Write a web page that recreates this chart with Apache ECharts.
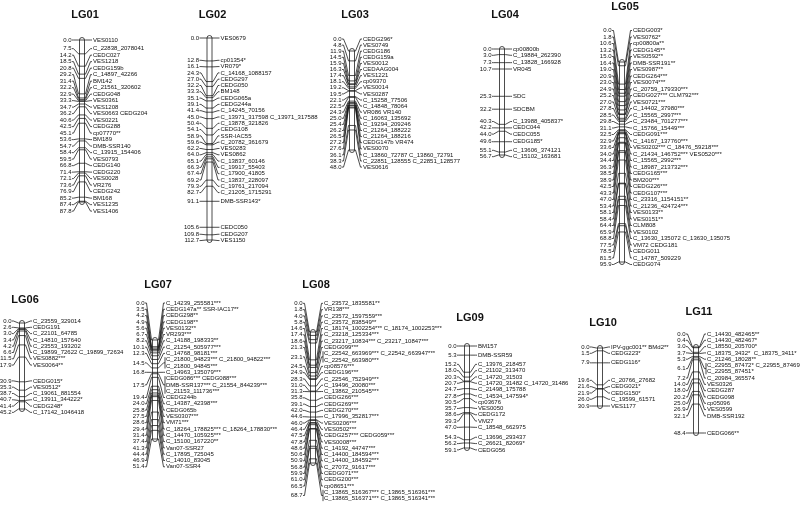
<!DOCTYPE html>
<html>
<head>
<meta charset="utf-8">
<script src="https://cdn.jsdelivr.net/npm/echarts@6/dist/echarts.min.js"></script>
<style>
  html, body { margin: 0; padding: 0; background: #fff; }
  #main { width: 800px; height: 508px; }
</style>
</head>
<body>
<div id="main"></div>
<script>
// marker positions (cM) and marker names per linkage group
const lg01Pos = [0.0, 7.5, 14.2, 18.5, 20.8, 29.2, 31.4, 32.2, 32.9, 33.3, 34.7, 36.2, 40.6, 42.5, 45.1, 53.6, 54.7, 58.4, 59.5, 66.8, 71.4, 72.1, 73.6, 76.9, 85.2, 87.4, 87.8];
const lg01Names = ['VES0110', 'C_22838_2078041', 'CEDC027', 'VES1218', 'CEDG159b', 'C_14897_42266', 'BM142', 'C_21561_320602', 'CEDG048', 'VES0361', 'VES1208', 'VES0663 CEDG204', 'VES0221', 'CEDG288', 'cp07770**', 'BM189', 'DMB-SSR140', 'C_13915_154406', 'VES0793', 'CEDG140', 'CEDG220', 'VES0028', 'VR276', 'CEDG242', 'BM168', 'VES1235', 'VES1406'];

const lg02Pos = [0.0, 12.8, 16.1, 24.3, 27.0, 32.2, 33.3, 35.1, 39.1, 41.4, 45.0, 50.4, 54.1, 58.9, 59.6, 62.2, 64.0, 65.1, 66.3, 67.4, 69.2, 79.3, 82.7, 91.1, 105.6, 109.8, 112.7];
const lg02Names = ['VES0679', 'cp01354*', 'VR079*', 'C_14168_1088157', 'CEDG297', 'CEDG050', 'BM148', 'CEDG065a', 'CEDG244a', 'C_14245_70156', 'C_13971_317598 C_13971_317588', 'C_13878_321826', 'CEDG108', 'SSR-IAC55', 'C_20782_361679', 'VES0283', 'VES0862', 'C_13837_60146', 'C_19917_55403', 'C_17900_41805', 'C_13837_228097', 'C_19761_217094', 'C_21205_1715291', 'DMB-SSR143*', 'CEDC050', 'CEDG207', 'VES1150'];

const lg03Pos = [0.0, 4.8, 11.9, 14.5, 15.9, 16.3, 17.4, 18.1, 19.2, 19.5, 22.1, 22.5, 24.3, 25.0, 25.4, 26.2, 26.5, 27.2, 27.6, 36.1, 38.3, 48.0];
const lg03Names = ['CEDG296*', 'VES0749', 'CEDG186', 'CEDG159a', 'VES0012', 'CEDAAG004', 'VES1221', 'cp09370', 'VES0014', 'VES0287', 'C_15258_77506', 'C_14848_78064', 'VR086 VR140', 'C_16063_135692', 'C_19294_209246', 'C_21264_188222', 'C_21264_188216', 'CEDG147b VR474', 'VES0070', 'C_13860_72787 C_13860_72791', 'C_22851_128555 C_22851_128577', 'VES0616'];

const lg04Pos = [0.0, 3.0, 7.3, 10.7, 25.3, 32.2, 40.3, 42.2, 44.0, 49.6, 55.1, 56.7];
const lg04Names = ['cp00800b', 'C_19884_262390', 'C_13828_166928', 'VR045', 'SDC', 'SDCBM', 'C_13988_405837*', 'CEDC044', 'CEDC055', 'CEDG185*', 'C_13606_374121', 'C_15102_163681'];

const lg05Pos = [0.0, 1.8, 10.6, 13.2, 15.0, 16.4, 19.0, 20.9, 23.0, 24.9, 25.2, 27.0, 27.8, 28.5, 29.8, 31.1, 32.5, 32.9, 33.6, 34.0, 34.4, 36.3, 38.5, 38.9, 42.5, 43.3, 47.0, 53.4, 58.1, 58.4, 64.4, 65.9, 68.8, 77.5, 78.5, 81.5, 95.9];
const lg05Names = ['CEDG003*', 'VES0762*', 'cp00800a**', 'CEDG145**', 'VES0592**', 'DMB-SSR191**', 'VES0987**', 'CEDG264***', 'VES0074***', 'C_20759_179330***', 'CEDG027*** CLM792***', 'VES0721***', 'C_14402_37980***', 'C_15565_2997***', 'C_23484_701277***', 'C_15766_15449***', 'CEDG091***', 'C_14167_137760***', 'VES0202*** C_18476_59218***', 'C_21434_146752*** VES0520***', 'C_15565_2992***', 'C_18987_213732***', 'CEDG165***', 'BM200***', 'CEDG226***', 'CEDG107***', 'C_23316_1154151**', 'C_21236_424724***', 'VES0133**', 'VES0151**', 'CLM808', 'VES0102', 'C_13630_135072 C_13630_135075', 'VM72 CEDG181', 'CEDG011', 'C_14787_509229', 'CEDG074'];

const lg06Pos = [0.0, 2.6, 3.0, 3.4, 4.2, 6.6, 11.5, 17.9, 30.9, 35.3, 38.7, 40.7, 41.4, 45.2];
const lg06Names = ['C_23559_329014', 'CEDG191', 'C_22101_64785', 'C_14810_157640', 'C_23553_193202', 'C_19899_72622 C_19899_72634', 'VES0882***', 'VES0064**', 'CEDG015*', 'VES0512*', 'C_19061_881554', 'C_13911_344222*', 'CEDG248*', 'C_17142_1046418'];

const lg07Pos = [0.0, 3.5, 4.2, 4.9, 5.6, 6.7, 8.2, 10.1, 12.3, 14.5, 16.8, 17.5, 19.4, 24.0, 25.8, 27.5, 28.6, 29.4, 31.4, 37.4, 41.3, 44.4, 46.9, 51.4];
const lg07Names = ['C_14239_255581***', 'CEDG147a** SSR-IAC17**', 'CEDG298**', 'CEDG198**', 'VES0132**', 'VR293***', 'C_14188_198333**', 'C_21254_505977***', 'C_14768_98181***', 'C_21800_94823*** C_21800_94822***\nC_21800_94845***', 'C_14963_135079***', 'CEDG086*** CEDG088***\nDMB-SSR137*** C_21554_844239***\nC_21153_111736***', 'CEDG244b', 'C_14387_42398***', 'CEDG065b', 'VES0307***', 'VM71***', 'C_18264_178825*** C_18264_178830***', 'C_14470_105925***', 'C_15100_167220**', 'Van07-SSR27', 'C_17895_725045', 'C_14010_83045', 'Van07-SSR4'];

const lg08Pos = [0.0, 1.8, 4.0, 5.8, 14.6, 17.4, 18.6, 21.3, 23.1, 24.5, 24.9, 28.3, 31.0, 31.3, 35.8, 39.1, 42.0, 44.6, 46.0, 46.4, 47.5, 47.8, 48.6, 50.6, 50.9, 56.8, 59.9, 61.0, 66.5, 68.7];
const lg08Names = ['C_23572_1835581**', 'VR138***', 'C_23572_1597559***', 'C_23572_838549**', 'C_18174_1002254*** C_18174_1002253***', 'C_23218_125334***', 'C_23217_10834*** C_23217_10847***', 'CEDG099***', 'C_22542_663969*** C_22542_663947***\nC_22542_663980***', 'cp08576***', 'CEDG196***', 'C_22546_752949***', 'C_19496_20080***', 'C_13862_210545***', 'CEDG266***', 'CEDG269***', 'CEDG270***', 'C_17996_352817***', 'VES0206***', 'VES0502***', 'CEDG257*** CEDG059***', 'VES0008***', 'C_14192_44747***', 'C_14400_184594***', 'C_14400_184592***', 'C_27072_91617***', 'CEDG071***', 'CEDG200***', 'cp08651***', 'C_13865_516367*** C_13865_516361***\nC_13865_516371*** C_13865_516341***'];

const lg09Pos = [0.0, 5.3, 15.2, 18.0, 20.3, 20.7, 24.7, 27.8, 30.5, 35.7, 38.6, 39.3, 47.0, 54.3, 56.2, 59.1];
const lg09Names = ['BM157', 'DMB-SSR59', 'C_13976_218457', 'C_21102_313470', 'C_14720_31503', 'C_14720_31482 C_14720_31486', 'C_21498_175788', 'C_14534_147594*', 'cp03676', 'VES0050', 'CEDG172', 'VM27', 'C_18548_662975', 'C_13696_293437', 'C_26621_82069*', 'CEDG056'];

const lg10Pos = [0.0, 1.5, 7.9, 19.6, 21.6, 21.9, 26.0, 30.9];
const lg10Names = ['IPV-ggc001** BMd2**', 'CEDG223*', 'CEDG116*', 'C_20766_27682', 'CEDG021*', 'CEDG150*', 'C_19599_61571', 'VES1177'];

const lg11Pos = [0.0, 0.4, 3.0, 3.7, 5.3, 6.1, 7.2, 14.0, 18.0, 20.2, 25.0, 26.9, 32.1, 48.4];
const lg11Names = ['C_14430_482465**', 'C_14430_482467*', 'C_18550_205700*', 'C_18375_3432*  C_18375_3411*', 'C_21246_18028**', 'C_22955_87472* C_22955_87469*\nC_22955_87451*', 'C_20984_365574', 'VES0326', 'CEDG287', 'CEDG098', 'cp05096', 'VES0599', 'DMB-SSR192', 'CEDG066**'];

const groups = [
    {id: 'LG01', pos: lg01Pos, names: lg01Names},
    {id: 'LG02', pos: lg02Pos, names: lg02Names},
    {id: 'LG03', pos: lg03Pos, names: lg03Names},
    {id: 'LG04', pos: lg04Pos, names: lg04Names},
    {id: 'LG05', pos: lg05Pos, names: lg05Names},
    {id: 'LG06', pos: lg06Pos, names: lg06Names},
    {id: 'LG07', pos: lg07Pos, names: lg07Names},
    {id: 'LG08', pos: lg08Pos, names: lg08Names},
    {id: 'LG09', pos: lg09Pos, names: lg09Names},
    {id: 'LG10', pos: lg10Pos, names: lg10Names},
    {id: 'LG11', pos: lg11Pos, names: lg11Names},
];

// where each chromosome sits on the page: bar centre x, bar top/bottom,
// title y, highest allowed label row, label row height
const place = {
    LG01: {x: 82, top: 40, bottom: 202, titleY: 15, minY: 36.5, lh: 6.5},
    LG02: {x: 209.5, top: 38, bottom: 240, titleY: 15, minY: 38, lh: 6.3},
    LG03: {x: 352, top: 51, bottom: 150, titleY: 15, minY: 39, lh: 6.1},
    LG04: {x: 502, top: 49, bottom: 155, titleY: 15, minY: 49, lh: 6.3},
    LG05: {x: 622, top: 62, bottom: 262, titleY: 7, minY: 30.5, lh: 6.5},
    LG06: {x: 22, top: 323, bottom: 409, titleY: 300, minY: 321, lh: 6.3},
    LG07: {x: 155, top: 340, bottom: 439, titleY: 285, minY: 303, lh: 6.3},
    LG08: {x: 313, top: 332, bottom: 463, titleY: 285, minY: 303, lh: 6.3},
    LG09: {x: 467, top: 346, bottom: 448, titleY: 318, minY: 343, lh: 6.3},
    LG10: {x: 600, top: 348, bottom: 406, titleY: 323, minY: 347, lh: 6.3},
    LG11: {x: 696, top: 347, bottom: 433, titleY: 312, minY: 334, lh: 6.3},
};

const BAR_W = 5;
const FONT = '6px "Liberation Sans", Arial, sans-serif';
const TITLE_FONT = 'bold 11px "Liberation Sans", Arial, sans-serif';
const INK = '#111';

// push label blocks apart so they don't overlap; each cluster sits on the
// mean of its markers' wanted rows, never higher than minY
function spread(ys, sizes, lh, minY) {
    const hs = sizes.map(n => n * lh);
    const fit = c => {
        let off = 0, s = 0;
        c.idx.forEach(j => {
            s += ys[j] - off - hs[j] / 2;
            off += hs[j];
        });
        c.h = off;
        c.top = Math.max(s / c.idx.length, minY - hs[0] / 2);
        return c;
    };
    const stack = [];
    ys.forEach((y, i) => {
        stack.push(fit({idx: [i]}));
        while (stack.length > 1) {
            const b = stack[stack.length - 1], a = stack[stack.length - 2];
            if (a.top + a.h <= b.top + 0.01) break;
            stack.pop();
            stack.pop();
            stack.push(fit({idx: a.idx.concat(b.idx)}));
        }
    });
    const out = [];
    stack.forEach(c => {
        let off = 0;
        c.idx.forEach(j => {
            out[j] = c.top + off + hs[j] / 2;
            off += hs[j];
        });
    });
    return out;
}

const txt = (text, x, y, align, font) => ({
    type: 'text',
    style: {
        text: text, x: x, y: y, fill: INK, font: font || FONT,
        align: align, verticalAlign: 'middle',
        textAlign: align, textVerticalAlign: 'middle'
    }
});
const stroke = {stroke: INK, lineWidth: 0.75, fill: 'none'};

const grids = [], xAxes = [], yAxes = [], series = [];

groups.forEach((g, k) => {
    const p = place[g.id];
    const len = g.pos[g.pos.length - 1];
    grids.push({left: p.x - 1, width: 2, top: p.top, height: p.bottom - p.top});
    xAxes.push({type: 'value', gridIndex: k, min: -1, max: 1, show: false});
    yAxes.push({type: 'value', gridIndex: k, min: 0, max: len, inverse: true, show: false});

    // chromosome bar + group title
    series.push({
        type: 'custom',
        xAxisIndex: k,
        yAxisIndex: k,
        clip: false,
        silent: true,
        z: 1,
        data: [[0, 0]],
        renderItem: (params, api) => {
            const a = api.coord([0, 0]), b = api.coord([0, len]);
            const r = BAR_W / 2;
            return {
                type: 'group',
                children: [
                    {
                        type: 'rect',
                        shape: {x: a[0] - r, y: a[1] - r, width: BAR_W, height: b[1] - a[1] + BAR_W, r: r},
                        style: {fill: '#fff', stroke: INK, lineWidth: 0.75}
                    },
                    txt(g.id, a[0] + 3, p.titleY, 'center', TITLE_FONT)
                ]
            };
        }
    });

    // markers: tick on the bar, connector lines, position and name labels
    const rows = g.names.map(s => s.split('\n'));
    series.push({
        type: 'custom',
        xAxisIndex: k,
        yAxisIndex: k,
        clip: false,
        silent: true,
        z: 2,
        data: g.pos.map(v => [0, v]),
        renderItem: (params, api) => {
            const i = params.dataIndex;
            const ys = g.pos.map(v => api.coord([0, v])[1]);
            const cx = api.coord([0, 0])[0];
            const c = spread(ys, rows.map(r => r.length), p.lh, p.minY)[i];
            const y = ys[i];
            const r = BAR_W / 2;
            const lines = rows[i];
            const kids = [
                {type: 'line', shape: {x1: cx - r, y1: y, x2: cx + r, y2: y}, style: stroke},
                {type: 'polyline', shape: {points: [[cx - 10, c], [cx - 8.5, c], [cx - r - 1, y], [cx - r, y]]}, style: stroke},
                {type: 'polyline', shape: {points: [[cx + r, y], [cx + r + 1, y], [cx + 8.5, c], [cx + 10, c]]}, style: stroke},
                txt(g.pos[i].toFixed(1), cx - 10.5, c, 'right')
            ];
            const y0 = c - (lines.length - 1) / 2 * p.lh;
            if (lines.length > 1) {
                kids.push({
                    type: 'line',
                    shape: {x1: cx + 10, y1: y0 - 2.5, x2: cx + 10, y2: y0 + (lines.length - 1) * p.lh + 2.5},
                    style: stroke
                });
            }
            lines.forEach((s, j) => kids.push(txt(s, cx + 11, y0 + j * p.lh, 'left')));
            return {type: 'group', children: kids};
        }
    });
});

const chart = echarts.init(document.getElementById('main'));
chart.setOption({
    animation: false,
    grid: grids,
    xAxis: xAxes,
    yAxis: yAxes,
    series: series
});
</script>
</body>
</html>
